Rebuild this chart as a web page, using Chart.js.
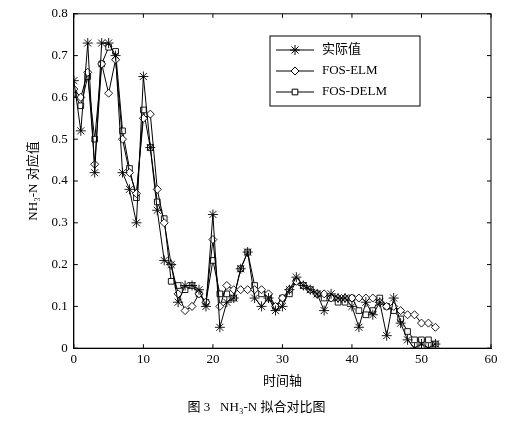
<!DOCTYPE html>
<html><head><meta charset="utf-8">
<script src="https://cdn.jsdelivr.net/npm/chart.js@4"></script>
<style>body{margin:0;background:#fff}#wrap{width:510px;height:423px}</style>
</head><body><div id="wrap"><canvas id="c"></canvas></div>
<script>
// Values, index = time step
const actual = [0.64,0.52,0.73,0.42,0.73,0.73,0.70,0.42,0.38,0.30,0.65,0.48,0.33,0.21,0.20,0.11,0.15,0.15,0.14,0.10,0.32,0.05,0.11,0.12,0.19,0.23,0.12,0.10,0.12,0.09,0.10,0.14,0.17,0.15,0.14,0.13,0.09,0.13,0.12,0.12,0.10,0.05,0.11,0.08,0.11,0.03,0.12,0.06,0.02,0.00,0.01,0.00,0.01];
const elm = [0.62,0.60,0.66,0.44,0.68,0.61,0.69,0.50,0.42,0.37,0.55,0.56,0.38,0.30,0.20,0.13,0.09,0.10,0.13,0.11,0.26,0.10,0.15,0.14,0.14,0.14,0.14,0.14,0.13,0.10,0.12,0.14,0.16,0.15,0.14,0.13,0.13,0.12,0.12,0.12,0.12,0.12,0.12,0.12,0.11,0.10,0.10,0.09,0.08,0.08,0.06,0.06,0.05];
const delm = [0.61,0.58,0.65,0.50,0.68,0.72,0.71,0.52,0.43,0.36,0.57,0.48,0.35,0.31,0.16,0.15,0.14,0.15,0.13,0.11,0.21,0.13,0.13,0.12,0.19,0.23,0.15,0.13,0.12,0.10,0.12,0.13,0.16,0.15,0.14,0.13,0.12,0.12,0.11,0.11,0.12,0.09,0.08,0.09,0.12,0.10,0.09,0.07,0.04,0.02,0.02,0.02,0.01];
const labels = ['实际值', 'FOS-ELM', 'FOS-DELM'];
const styles = ['star', 'rectRot', 'rect'];

const FONT = '"Liberation Serif", "Noto Sans CJK SC", serif';
const toXY = (arr) => arr.map((v, i) => ({x: i, y: v}));

const sets = [actual, elm, delm].map((arr, k) => ({
  label: labels[k],
  data: toXY(arr),
  borderColor: '#000',
  borderWidth: 1,
  pointStyle: styles[k],
  pointRadius: k == 0 ? 5 : 4,
  pointBorderColor: '#000',
  pointBackgroundColor: '#fff',
  pointBorderWidth: 0.9,
  tension: 0,
}));

// frame, inward ticks and legend box
const boxLegend = {
  id: 'boxLegend',
  afterDraw(chart) {
    const ctx = chart.ctx;
    const a = chart.chartArea;
    ctx.save();
    ctx.strokeStyle = '#000';
    ctx.lineWidth = 1;
    ctx.strokeRect(a.left, a.top, a.right - a.left, a.bottom - a.top);
    ctx.beginPath();
    chart.scales.x.ticks.forEach(t => {
      const px = chart.scales.x.getPixelForValue(t.value);
      ctx.moveTo(px, a.bottom); ctx.lineTo(px, a.bottom - 4);
      ctx.moveTo(px, a.top); ctx.lineTo(px, a.top + 4);
    });
    chart.scales.y.ticks.forEach(t => {
      const py = chart.scales.y.getPixelForValue(t.value);
      ctx.moveTo(a.left, py); ctx.lineTo(a.left + 4, py);
      ctx.moveTo(a.right, py); ctx.lineTo(a.right - 4, py);
    });
    ctx.stroke();

    const x0 = 270, y0 = 36, w = 150, h = 70;
    ctx.fillStyle = '#fff';
    ctx.fillRect(x0, y0, w, h);
    ctx.strokeRect(x0, y0, w, h);
    ctx.font = '13px ' + FONT;
    ctx.textBaseline = 'middle';
    chart.data.datasets.forEach((ds, i) => {
      const y = y0 + 14 + i * 21;
      ctx.beginPath();
      ctx.moveTo(x0 + 6, y);
      ctx.lineTo(x0 + 44, y);
      ctx.stroke();
      ctx.fillStyle = '#fff';
      Chart.helpers.drawPoint(ctx, {pointStyle: ds.pointStyle, radius: ds.pointRadius, borderWidth: 0.9}, x0 + 25, y);
      ctx.fillStyle = '#000';
      ctx.fillText(ds.label, x0 + 52, y);
    });
    ctx.restore();
  }
};

new Chart(document.getElementById('c'), {
  type: 'line',
  data: {datasets: sets},
  options: {
    responsive: true,
    maintainAspectRatio: false,
    animation: false,
    layout: {padding: {top: 9, right: 19, left: 22, bottom: 4}},
    plugins: {
      legend: {display: false},
      tooltip: {enabled: false},
      title: {
        display: true, position: 'bottom', text: '图 3   NH₃-N 拟合对比图',
        color: '#000', font: {family: FONT, size: 13, weight: 'normal'}, padding: {top: 6, bottom: 4}
      }
    },
    scales: {
      x: {
        type: 'linear', min: 0, max: 60,
        ticks: {stepSize: 10, color: '#000', font: {family: FONT, size: 13}, padding: 4},
        grid: {display: false, drawTicks: false},
        border: {color: '#000', width: 1},
        title: {display: true, text: '时间轴', color: '#000', font: {family: FONT, size: 13}, padding: {top: 2}}
      },
      y: {
        min: 0, max: 0.8,
        ticks: {stepSize: 0.1, color: '#000', font: {family: FONT, size: 13}, padding: 6, callback: v => v == 0 ? '0' : v.toFixed(1)},
        grid: {display: false, drawTicks: false},
        border: {color: '#000', width: 1},
        title: {display: true, text: 'NH₃-N 对应值', color: '#000', font: {family: FONT, size: 13}}
      }
    }
  },
  plugins: [boxLegend]
});
</script></body></html>
